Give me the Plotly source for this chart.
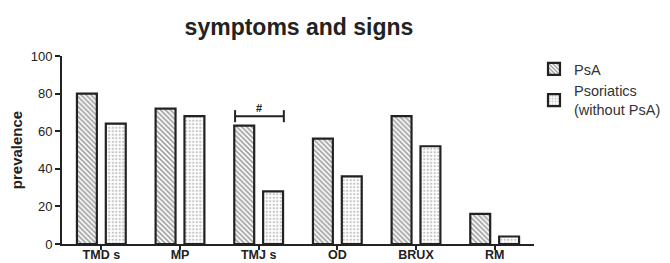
import plotly.graph_objects as go

categories = ["TMD s", "MP", "TMJ s", "OD", "BRUX", "RM"]
psa = [80, 72, 63, 56, 68, 16]
psoriatics = [64, 68, 28, 36, 52, 4]
series_names = ["PsA", "Psoriatics<br>(without PsA)"]
y_ticks = [0, 20, 40, 60, 80, 100]

FONT = "Liberation Sans, Arial, sans-serif"
INK = "#222222"

fig = go.Figure()
fig.add_trace(go.Bar(
    x=categories, y=psa, name=series_names[0],
    marker=dict(color="white", line=dict(color=INK, width=2.2),
                pattern=dict(shape="\\", size=3.5, solidity=0.5, fgcolor="#444444", bgcolor="white")),
))
fig.add_trace(go.Bar(
    x=categories, y=psoriatics, name=series_names[1],
    marker=dict(color="white", line=dict(color=INK, width=2.2),
                pattern=dict(shape=".", size=3.5, solidity=0.35, fgcolor="#888888", bgcolor="white")),
))

# significance bracket over TMJ s
bx0, bx1, by = 1.70, 2.32, 68
fig.add_shape(type="line", xref="x", yref="y", x0=bx0, x1=bx1, y0=by, y1=by,
              line=dict(color=INK, width=2))
for bx in (bx0, bx1):
    fig.add_shape(type="line", xref="x", yref="y", x0=bx, x1=bx, y0=by - 3.2, y1=by + 3.2,
                  line=dict(color=INK, width=2))
fig.add_annotation(x=(bx0 + bx1) / 2, y=by, xref="x", yref="y", text="<b>#</b>",
                   showarrow=False, yanchor="bottom", yshift=0,
                   font=dict(family=FONT, size=11, color=INK))

fig.update_layout(
    width=662, height=255,
    margin=dict(l=54, r=136, t=48, b=19, autoexpand=False),
    paper_bgcolor="white", plot_bgcolor="white",
    barmode="group", bargap=0.266, bargroupgap=0.31,
    title=dict(text="<b>symptoms and signs</b>", x=291 / 662, xanchor="center", xref="container",
               y=1 - 19 / 255, yanchor="middle", yref="container",
               font=dict(family=FONT, size=23, color=INK)),
    font=dict(family=FONT, color=INK),
    legend=dict(x=1.0, xanchor="left", y=1.016, yanchor="top", xref="paper",
                font=dict(family=FONT, size=14.5, color="#333333"),
                bgcolor="rgba(0,0,0,0)", tracegroupgap=0, itemwidth=30),
    showlegend=True,
)
fig.update_xaxes(
    range=[-0.5, 5.5], showline=True, linecolor=INK, linewidth=2,
    ticks="outside", ticklen=4, tickwidth=1.5, tickcolor=INK, automargin=False,
    ticklabelstandoff=-6,
    tickfont=dict(family=FONT, size=12.5, color=INK),
    tickprefix="<b>", ticksuffix="</b>", showgrid=False, zeroline=False,
)
fig.update_yaxes(
    range=[0, 100], tickvals=y_ticks, showline=True, linecolor=INK, linewidth=2,
    ticks="outside", ticklen=5, tickwidth=1.5, tickcolor=INK, automargin=False,
    tickfont=dict(family=FONT, size=13, color=INK),
    tickprefix="<b>", ticksuffix="</b>", showgrid=False, zeroline=False,
    title=dict(text="<b>prevalence</b>", font=dict(family=FONT, size=15, color=INK), standoff=8),
)

fig.write_html("out.html")
